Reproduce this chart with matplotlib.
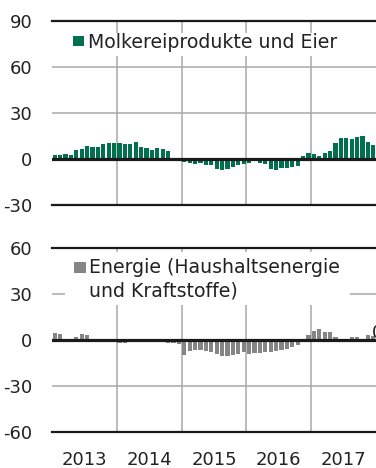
import matplotlib.pyplot as plt
import numpy as np
from matplotlib.patches import Rectangle

plt.rcParams['font.family'] = 'DejaVu Sans'
plt.rcParams['font.size'] = 13
plt.rcParams['axes.unicode_minus'] = False

years = [2013, 2014, 2015, 2016, 2017]

# Monthly change vs. previous year, in percent
dairy = [
    2.6, 2.8, 3.3, 2.4, 5.9, 6.8, 8.3, 7.6, 8.1, 9.8, 10.5, 10.7,
    10.7, 10.0, 10.0, 11.1, 7.8, 6.9, 6.1, 7.4, 6.5, 5.4, 0.0, -0.6,
    -2.2, -2.7, -3.5, -2.7, -3.9, -4.0, -6.4, -6.9, -6.6, -5.0, -3.9, -3.3,
    -2.5, -1.4, -2.9, -3.1, -6.4, -7.3, -6.0, -5.8, -5.3, -4.8, 1.7, 4.1,
    3.5, 2.2, 3.9, 5.4, 10.4, 13.7, 13.9, 13.3, 14.6, 15.3, 10.9, 8.9,
]
energy = [
    4.6, 3.9, 0.0, 0.4, 2.2, 3.7, 3.5, 0.2, 0.0, 0.2, 0.3, 0.8,
    -1.7, -2.2, -1.5, -1.3, -0.3, -0.5, -1.1, -1.3, -1.5, -1.7, -2.0, -2.6,
    -9.5, -7.0, -6.5, -6.5, -7.4, -7.8, -8.9, -10.2, -10.2, -9.6, -8.9, -7.8,
    -9.4, -8.8, -8.5, -8.1, -7.6, -7.0, -6.5, -5.8, -4.5, -3.0, -0.5, 3.3,
    5.7, 7.4, 5.4, 5.0, 1.7, 0.3, 0.2, 1.7, 1.7, 0.3, 3.3, 2.5,
]

dairy_label = ['Molkereiprodukte und Eier']
energy_label = ['Energie (Haushaltsenergie', 'und Kraftstoffe)']

green = '#00704f'
grey = '#858585'
grid_grey = '#a8a8a8'
dark = '#1a1a1a'

x = np.array([years[0] + (i + 0.5) / 12 for i in range(len(dairy))])
bar_w = 0.75 / 12

fig = plt.figure(figsize=(3.76, 4.68), dpi=100)
ax1 = fig.add_axes([52 / 376, 1 - 205 / 468, 324 / 376, 184 / 468])
ax2 = fig.add_axes([52 / 376, 1 - 432 / 468, 324 / 376, 184 / 468])


def style_panel(ax, lo, hi):
    ax.set_xlim(years[0], years[-1] + 1)
    ax.set_ylim(lo, hi)
    ticks = list(range(lo, hi + 1, 30))
    ax.set_yticks(ticks)
    ax.set_yticklabels([str(t) for t in ticks])
    for s in ax.spines.values():
        s.set_visible(False)
    ax.tick_params(length=0, pad=14, colors='#222222')
    for t in ticks[1:-1]:
        if t != 0:
            ax.axhline(t, color=grid_grey, lw=1.1, zorder=0)
    for yr in years[1:]:
        ax.axvline(yr, color=grid_grey, lw=1.1, zorder=0)
    ax.axhline(lo, color=dark, lw=1.6, zorder=5, clip_on=False)
    ax.axhline(hi, color=dark, lw=1.6, zorder=5, clip_on=False)
    ax.axhline(0, color=dark, lw=2.3, zorder=5)


def add_key(ax, color, lines, box, square, text_x, baselines):
    ax.add_patch(Rectangle(box[:2], box[2], box[3], transform=ax.transAxes,
                           facecolor='white', edgecolor='none', zorder=1))
    ax.add_patch(Rectangle(square[:2], square[2], square[3], transform=ax.transAxes,
                           facecolor=color, edgecolor='none', zorder=2))
    for line, yb in zip(lines, baselines):
        ax.text(text_x, yb, line, transform=ax.transAxes, ha='left', va='baseline',
                color='#222222', fontsize=13.6, zorder=3)


# Dairy products panel
style_panel(ax1, -30, 90)
ax1.bar(x, dairy, width=bar_w, color=green, zorder=3)
ax1.set_xticks([])
add_key(ax1, green, dairy_label,
        box=(0.04, 0.81, 0.87, 0.125),
        square=(0.065, 0.864, 0.034, 0.056),
        text_x=0.111, baselines=[0.855])

# Energy panel
style_panel(ax2, -60, 60)
ax2.bar(x, energy, width=bar_w, color=grey, zorder=3)
ax2.set_xticks([yr + 0.5 for yr in years])
ax2.set_xticklabels([str(yr) for yr in years])
ax2.tick_params(axis='x', pad=14)
add_key(ax2, grey, energy_label,
        box=(0.04, 0.69, 0.88, 0.29),
        square=(0.068, 0.864, 0.037, 0.06),
        text_x=0.114, baselines=[0.864, 0.739])
ax2.text(2017.94, 4.6, '0,5', ha='left', va='center', color='#222222',
         clip_on=False)

fig.savefig('out.png', dpi=100)
